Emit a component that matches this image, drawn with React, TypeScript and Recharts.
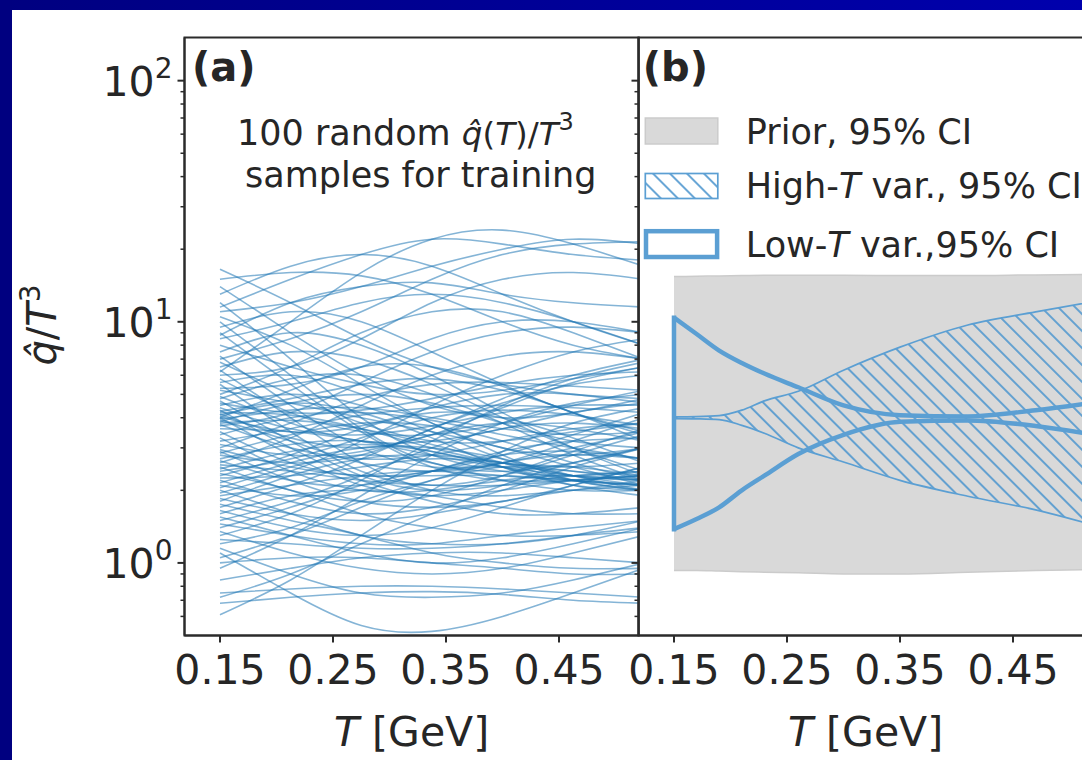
import React from 'react';
import {
  LineChart,
  Line,
  ComposedChart,
  Area,
  XAxis,
  YAxis,
  ReferenceArea,
  ReferenceLine,
  Customized,
} from 'recharts';

const FONT = '"DejaVu Sans", Verdana, sans-serif';
const INK = '#262626';
const SPINE = '#2b2b2b';
const SAMPLE_BLUE = '#1f77b4';
const BAND_BLUE = '#5b9fd3';
const HATCH_BLUE = '#4f97cf';
const PRIOR_FILL = '#d9d9d9';
const PRIOR_EDGE = '#cbcbcb';

// Shared axes: temperature in GeV, q̂/T³ on a log scale
const T_DOMAIN: [number, number] = [0.1186, 0.5205];
const Q_DOMAIN: [number, number] = [0.5, 151];
const T_TICKS = [0.15, 0.25, 0.35, 0.45];
const Q_MAJOR = [1, 10, 100];
const Q_MINOR = [0.6, 0.7, 0.8, 0.9, 2, 3, 4, 5, 6, 7, 8, 9, 20, 30, 40, 50, 60, 70, 80, 90];
const Q_TICKS = [...Q_MINOR, ...Q_MAJOR].sort((a, b) => a - b);

// (a) training curves, sampled on a common temperature grid
const SAMPLE_T = [0.15, 0.2125, 0.275, 0.3375, 0.4, 0.4625, 0.525];
const SAMPLES: number[][] = [
  [16.5, 12, 8.5, 6.5, 5.5, 5, 4.8],
  [15, 16, 15.5, 13, 10, 8, 7],
  [14, 9, 6, 4.5, 4, 4.2, 4.8],
  [13, 17, 19, 17, 13, 10, 8],
  [12, 7, 4, 2.8, 2.4, 2.3, 2.4],
  [11, 12, 14, 17, 20, 22, 21],
  [10.5, 8, 5.5, 3.8, 3, 2.8, 3],
  [10, 6, 3.6, 2.6, 2.4, 2.6, 3],
  [9.5, 11, 10, 7.5, 5.5, 4.2, 3.5],
  [9, 5.5, 3.5, 2.5, 2.2, 2.2, 2.3],
  [8.5, 10, 12, 13, 12, 10, 8],
  [8, 6.5, 5.5, 5, 5.2, 5.8, 6.5],
  [7.5, 9, 8, 6, 4.2, 3, 2.3],
  [7.2, 4.5, 3, 2.5, 2.6, 3, 3.5],
  [7, 8.5, 11, 15, 19, 21, 21.5],
  [6.8, 5, 3.8, 3.2, 3.2, 3.5, 3.8],
  [6.5, 7.5, 7, 5.5, 4, 3, 2.4],
  [6.3, 4, 2.6, 2, 1.9, 2, 2.1],
  [6, 6.5, 8.5, 12, 15, 16, 15],
  [5.8, 4.2, 3.5, 3.4, 3.8, 4.5, 5.2],
  [5.6, 6, 5, 3.8, 2.8, 2.2, 2],
  [5.5, 3.5, 2.4, 2.1, 2.3, 2.8, 3.4],
  [5.3, 5.5, 6.5, 8.5, 10, 10, 9],
  [5.2, 4.6, 4, 3.5, 3, 2.5, 2.1],
  [5, 6.5, 9, 11, 11, 9, 7],
  [4.9, 3.8, 3.2, 3.2, 3.6, 4.2, 4.6],
  [4.8, 5.8, 6, 5, 3.8, 2.8, 2.2],
  [4.7, 3.2, 2.3, 2, 2.1, 2.3, 2.4],
  [4.6, 4.2, 4.3, 4.8, 5.5, 6, 6.2],
  [4.5, 5, 4.5, 3.5, 2.7, 2.3, 2.2],
  [4.4, 3.6, 3.4, 3.7, 4.2, 4.5, 4.5],
  [4.3, 3, 2.2, 1.8, 1.6, 1.6, 1.7],
  [4.25, 4.8, 5.5, 5.8, 5.2, 4.2, 3.2],
  [4.2, 4.1, 3.6, 3, 2.6, 2.5, 2.6],
  [4.15, 3.3, 3, 3.4, 4.4, 5.6, 6.5],
  [4.1, 4.6, 4.2, 3.3, 2.5, 2.1, 2],
  [4.05, 3.5, 3.7, 4.4, 5, 5, 4.6],
  [4, 5.2, 6.5, 6.5, 5.4, 4.2, 3.4],
  [4, 2.8, 2.1, 1.9, 2, 2.2, 2.3],
  [3.95, 4.3, 4.4, 4, 3.6, 3.4, 3.5],
  [3.9, 3.2, 2.6, 2.4, 2.6, 3.2, 4],
  [3.85, 4.6, 5, 4.6, 3.8, 3.2, 3],
  [3.8, 3.9, 3.6, 3.1, 2.6, 2.2, 2],
  [3.75, 3, 2.7, 2.8, 3.2, 3.6, 3.8],
  [3.7, 4.2, 5.6, 7.5, 9, 9.5, 9],
  [3.6, 3.5, 3.2, 2.8, 2.5, 2.3, 2.2],
  [3.5, 2.6, 2.3, 2.4, 2.8, 3.4, 4.2],
  [3.4, 4, 4.2, 3.9, 3.4, 3, 2.7],
  [3.3, 2.4, 2, 2, 2.2, 2.3, 2.2],
  [3.2, 3.6, 4.1, 4.4, 4.5, 4.4, 4.2],
  [3.1, 2.8, 2.9, 3.4, 3.8, 3.6, 3.2],
  [3, 3.8, 4.8, 5.5, 5.6, 5.4, 5.2],
  [2.95, 2.5, 2.3, 2.3, 2.3, 2.2, 2.1],
  [2.9, 2.2, 1.8, 1.7, 1.8, 2.1, 2.5],
  [2.85, 3.4, 3.8, 3.7, 3.2, 2.6, 2.2],
  [2.8, 2.6, 2.8, 3.6, 4.8, 6, 7],
  [2.7, 3.1, 3.2, 2.9, 2.5, 2.2, 2.1],
  [2.65, 2.2, 2.1, 2.4, 2.9, 3.2, 3.3],
  [2.6, 3.3, 4.5, 6, 7.2, 7.5, 7],
  [2.55, 2.4, 2.2, 2.1, 2.1, 2.2, 2.3],
  [2.5, 2, 1.8, 1.9, 2.3, 2.9, 3.6],
  [2.45, 2.9, 3.1, 2.9, 2.5, 2.1, 1.9],
  [2.4, 2.7, 3.3, 4, 4.3, 4.1, 3.7],
  [2.35, 2, 1.6, 1.4, 1.3, 1.3, 1.35],
  [2.3, 2.8, 3.6, 4.2, 4, 3.3, 2.6],
  [2.25, 2.3, 2.5, 2.7, 2.6, 2.4, 2.2],
  [2.2, 1.8, 1.6, 1.7, 2, 2.5, 3],
  [2.15, 2.6, 3, 3, 2.7, 2.3, 2],
  [2.1, 1.9, 2, 2.4, 2.8, 2.9, 2.7],
  [2.05, 2.5, 2.8, 2.6, 2.2, 2, 2],
  [2, 1.6, 1.3, 1.2, 1.2, 1.3, 1.5],
  [1.95, 2.4, 3.2, 4.5, 6, 7.5, 8.5],
  [1.9, 2.1, 2.3, 2.4, 2.3, 2.2, 2.1],
  [1.85, 1.6, 1.5, 1.6, 1.8, 2, 2.2],
  [1.8, 2.3, 2.7, 2.8, 2.6, 2.3, 2.1],
  [1.75, 1.5, 1.3, 1.1, 1, 0.95, 0.95],
  [1.7, 2.1, 2.7, 3.6, 4.6, 5.5, 6],
  [1.65, 1.4, 1.3, 1.4, 1.7, 2.1, 2.5],
  [1.6, 1.9, 2, 1.9, 1.7, 1.6, 1.6],
  [1.55, 1.3, 1.1, 1, 1.05, 1.2, 1.4],
  [1.5, 1.8, 2.3, 3, 3.6, 3.8, 3.6],
  [1.45, 1.3, 1.2, 1.2, 1.3, 1.4, 1.5],
  [1.4, 1.7, 2.1, 2.4, 2.5, 2.4, 2.3],
  [1.35, 1.1, 0.95, 0.9, 0.95, 1.1, 1.3],
  [1.3, 1.6, 2.2, 3.2, 4.5, 5.8, 6.8],
  [1.25, 1.2, 1.15, 1.15, 1.2, 1.3, 1.4],
  [1.2, 1.4, 1.8, 2.2, 2.5, 2.5, 2.3],
  [1.15, 0.9, 0.75, 0.72, 0.75, 0.85, 1],
  [1.1, 0.75, 0.55, 0.52, 0.6, 0.75, 0.95],
  [1.05, 1.3, 1.7, 2.2, 2.6, 2.8, 2.7],
  [1, 1.05, 1.05, 1, 0.95, 0.9, 0.9],
  [0.95, 1.3, 1.9, 2.8, 3.8, 4.6, 5],
  [0.85, 0.95, 1.05, 1.1, 1.1, 1.05, 1],
  [0.75, 0.78, 0.8, 0.8, 0.78, 0.75, 0.72],
  [0.72, 0.9, 1.2, 1.6, 2.1, 2.6, 3],
  [0.68, 0.72, 0.75, 0.76, 0.74, 0.7, 0.68],
  [0.61, 0.85, 1.3, 2, 2.9, 3.8, 4.4],
  [6.2, 10, 16, 22, 24, 21, 17],
  [11.5, 15, 19, 22, 21, 19, 18],
  [8.8, 12, 14, 14.5, 13, 12, 11.5],
];

// (b) credible-interval bands on a common temperature grid
const BAND_T = [0.15, 0.17, 0.19, 0.21, 0.23, 0.26, 0.3, 0.35, 0.41, 0.47, 0.525];
const PRIOR_LO = [0.93, 0.93, 0.925, 0.92, 0.915, 0.91, 0.9, 0.9, 0.915, 0.93, 0.94];
const PRIOR_HI = [15.4, 15.45, 15.5, 15.55, 15.6, 15.6, 15.6, 15.55, 15.55, 15.65, 15.7];
const HIGH_T_LO = [3.97, 3.96, 3.93, 3.72, 3.45, 3.0, 2.62, 2.2, 1.89, 1.66, 1.42];
const HIGH_T_HI = [4.03, 4.04, 4.08, 4.3, 4.7, 5.15, 6.3, 7.85, 9.7, 11.0, 12.2];
const LOW_T_LO = [1.38, 1.52, 1.7, 2.0, 2.3, 2.83, 3.4, 3.85, 3.9, 3.7, 3.38];
const LOW_T_HI = [10.4, 8.9, 7.6, 6.75, 6.1, 5.35, 4.5, 4.1, 4.05, 4.3, 4.65];

const LEGEND_LABELS = ['Prior, 95% CI', 'High-T var., 95% CI', 'Low-T var.,95% CI'];

const sampleTable = SAMPLE_T.map((t, i) => {
  const row: Record<string, number> = { T: t };
  SAMPLES.forEach((s, k) => {
    row[`s${k}`] = s[i];
  });
  return row;
});

const bandTable = BAND_T.map((t, i) => ({
  T: t,
  priorLo: PRIOR_LO[i],
  priorHi: PRIOR_HI[i],
  highLo: HIGH_T_LO[i],
  highHi: HIGH_T_HI[i],
  lowLo: LOW_T_LO[i],
  lowHi: LOW_T_HI[i],
}));

// layout
const CHART_W = 700;
const CHART_H = 760;
const AXIS_W = 184.5;
const X_AXIS_H = 120;
const MARGIN = { top: 37.5, right: 61.3, bottom: 4.5, left: 0 };
const PANEL_B_LEFT = 454.2;
const PLOT_CENTER_X = (AXIS_W + CHART_W - MARGIN.right) / 2;

function QTick(props: any) {
  const { x, y, payload, withLabel } = props;
  const v = payload.value as number;
  const major = Q_MAJOR.includes(v);
  const len = major ? 7 : 4;
  return (
    <g>
      <line x1={x - len} x2={x} y1={y} y2={y} stroke={SPINE} strokeWidth={major ? 2 : 1.5} />
      {withLabel && major && (
        <text x={x - 12} y={y + 15} textAnchor="end" fill={INK} fontSize={41} fontFamily={FONT}>
          10
          <tspan dy={-18} fontSize={28}>
            {Math.round(Math.log10(v))}
          </tspan>
        </text>
      )}
    </g>
  );
}

const fmtT = (v: number) => v.toFixed(2);

function xAxisProps() {
  return {
    dataKey: 'T',
    type: 'number' as const,
    domain: T_DOMAIN,
    allowDataOverflow: true,
    ticks: T_TICKS,
    interval: 0 as const,
    tickFormatter: fmtT,
    height: X_AXIS_H,
    tickSize: 7,
    tickMargin: 12,
    axisLine: { stroke: SPINE, strokeWidth: 2 },
    tickLine: { stroke: SPINE, strokeWidth: 2 },
    tick: { fill: INK, fontSize: 41, fontFamily: FONT },
  };
}

function yAxisProps(withLabel: boolean) {
  return {
    type: 'number' as const,
    scale: 'log' as const,
    domain: Q_DOMAIN,
    allowDataOverflow: true,
    ticks: Q_TICKS,
    interval: 0 as const,
    width: AXIS_W,
    tickSize: 0,
    tickMargin: 0,
    tickLine: false,
    axisLine: { stroke: SPINE, strokeWidth: 2 },
    tick: <QTick withLabel={withLabel} />,
  };
}

function PanelAText() {
  return (
    <g fontFamily={FONT}>
      <text x={192} y={81} fontSize={40} fontWeight="bold" fill={INK}>
        (a)
      </text>
      <text x={237} y={145} fontSize={35} fill={INK}>
        100 random{' '}
        <tspan fontSize={32.5}>
          <tspan fontStyle="italic">{'q\u0302'}</tspan>(<tspan fontStyle="italic">T</tspan>)/
          <tspan fontStyle="italic">T</tspan>
        </tspan>
        <tspan dy={-15} fontSize={24}>
          3
        </tspan>
      </text>
      <text x={245} y={187} fontSize={35} fill={INK}>
        samples for training
      </text>
      <text x={PLOT_CENTER_X} y={746} textAnchor="middle" fontSize={41} fill={INK}>
        <tspan fontStyle="italic">T</tspan> [GeV]
      </text>
      <text transform="translate(56,325) rotate(-90)" textAnchor="middle" fontSize={40} fill={INK}>
        <tspan fontStyle="italic">{'q\u0302'}</tspan>/<tspan fontStyle="italic">T</tspan>
        <tspan dy={-16} fontSize={28}>
          3
        </tspan>
      </text>
    </g>
  );
}

function PanelBText() {
  const ox = PANEL_B_LEFT;
  const keyX = 645.5 - ox;
  const keyW = 72.5;
  const textX = 746 - ox;
  return (
    <g fontFamily={FONT}>
      <defs>
        <pattern
          id="hatchHighT"
          patternUnits="userSpaceOnUse"
          width={12}
          height={12}
          patternTransform="rotate(-45)"
        >
          <line x1={6} y1={-1} x2={6} y2={13} stroke={HATCH_BLUE} strokeWidth={1.7} />
        </pattern>
      </defs>
      <text x={643 - ox} y={81} fontSize={40} fontWeight="bold" fill={INK}>
        (b)
      </text>
      <rect x={keyX} y={118} width={keyW} height={26} fill={PRIOR_FILL} stroke={PRIOR_EDGE} strokeWidth={1.5} />
      <rect x={keyX} y={173.5} width={keyW} height={25} fill="url(#hatchHighT)" stroke={BAND_BLUE} strokeWidth={1.7} />
      <rect x={keyX + 0.7} y={231.2} width={keyW - 1.4} height={25.8} fill="none" stroke={BAND_BLUE} strokeWidth={4.5} />
      <text x={textX} y={144} fontSize={35} fill={INK}>
        {LEGEND_LABELS[0]}
      </text>
      <text x={textX} y={198} fontSize={35} fill={INK}>
        High-<tspan fontStyle="italic">T</tspan> var., 95% CI
      </text>
      <text x={textX} y={256.5} fontSize={35} fill={INK}>
        Low-<tspan fontStyle="italic">T</tspan> var.,95% CI
      </text>
      <text x={PLOT_CENTER_X} y={746} textAnchor="middle" fontSize={41} fill={INK}>
        <tspan fontStyle="italic">T</tspan> [GeV]
      </text>
    </g>
  );
}

function PanelA() {
  return (
    <LineChart width={CHART_W} height={CHART_H} data={sampleTable} margin={MARGIN}>
      <XAxis {...xAxisProps()} />
      <YAxis {...yAxisProps(true)} />
      {SAMPLES.map((_, k) => (
        <Line
          key={k}
          dataKey={`s${k}`}
          type="natural"
          stroke={SAMPLE_BLUE}
          strokeOpacity={0.55}
          strokeWidth={1.6}
          dot={false}
          activeDot={false}
          isAnimationActive={false}
        />
      ))}
      <ReferenceArea
        x1={T_DOMAIN[0]}
        x2={T_DOMAIN[1]}
        y1={Q_DOMAIN[0]}
        y2={Q_DOMAIN[1]}
        fill="none"
        stroke={SPINE}
        strokeWidth={2}
        ifOverflow="visible"
      />
      <Customized component={<PanelAText />} />
    </LineChart>
  );
}

function PanelB() {
  return (
    <ComposedChart width={CHART_W} height={CHART_H} data={bandTable} margin={MARGIN}>
      <XAxis {...xAxisProps()} />
      <YAxis {...yAxisProps(false)} />
      <Area
        dataKey={(d: any) => [d.priorLo, d.priorHi]}
        type="monotone"
        fill={PRIOR_FILL}
        fillOpacity={1}
        stroke={PRIOR_EDGE}
        strokeWidth={1.5}
        dot={false}
        activeDot={false}
        isAnimationActive={false}
      />
      <Area
        dataKey={(d: any) => [d.highLo, d.highHi]}
        type="monotone"
        fill="url(#hatchHighT)"
        fillOpacity={1}
        stroke={BAND_BLUE}
        strokeWidth={1.7}
        dot={false}
        activeDot={false}
        isAnimationActive={false}
      />
      <Area
        dataKey={(d: any) => [d.lowLo, d.lowHi]}
        type="monotone"
        fill="none"
        stroke={BAND_BLUE}
        strokeWidth={4.5}
        dot={false}
        activeDot={false}
        isAnimationActive={false}
      />
      <ReferenceLine
        segment={[
          { x: BAND_T[0], y: LOW_T_LO[0] },
          { x: BAND_T[0], y: LOW_T_HI[0] },
        ]}
        stroke={BAND_BLUE}
        strokeWidth={4.5}
        strokeLinecap="square"
        ifOverflow="visible"
      />
      <ReferenceArea
        x1={T_DOMAIN[0]}
        x2={T_DOMAIN[1]}
        y1={Q_DOMAIN[0]}
        y2={Q_DOMAIN[1]}
        fill="none"
        stroke={SPINE}
        strokeWidth={2}
        ifOverflow="visible"
      />
      <Customized component={<PanelBText />} />
    </ComposedChart>
  );
}

export default function App() {
  return (
    <div
      style={{
        position: 'fixed',
        left: 0,
        top: 0,
        width: 1082,
        height: 760,
        overflow: 'hidden',
        background: '#ffffff',
        fontFamily: FONT,
      }}
    >
      <div style={{ position: 'absolute', left: 0, top: 0 }}>
        <PanelA />
      </div>
      <div style={{ position: 'absolute', left: PANEL_B_LEFT, top: 0 }}>
        <PanelB />
      </div>
      <div
        style={{
          position: 'absolute',
          left: 0,
          top: 0,
          width: 1082,
          height: 10,
          background: 'linear-gradient(to right, #000080, #0000ad)',
        }}
      />
      <div style={{ position: 'absolute', left: 0, top: 0, width: 12, height: 760, background: '#000080' }} />
    </div>
  );
}
